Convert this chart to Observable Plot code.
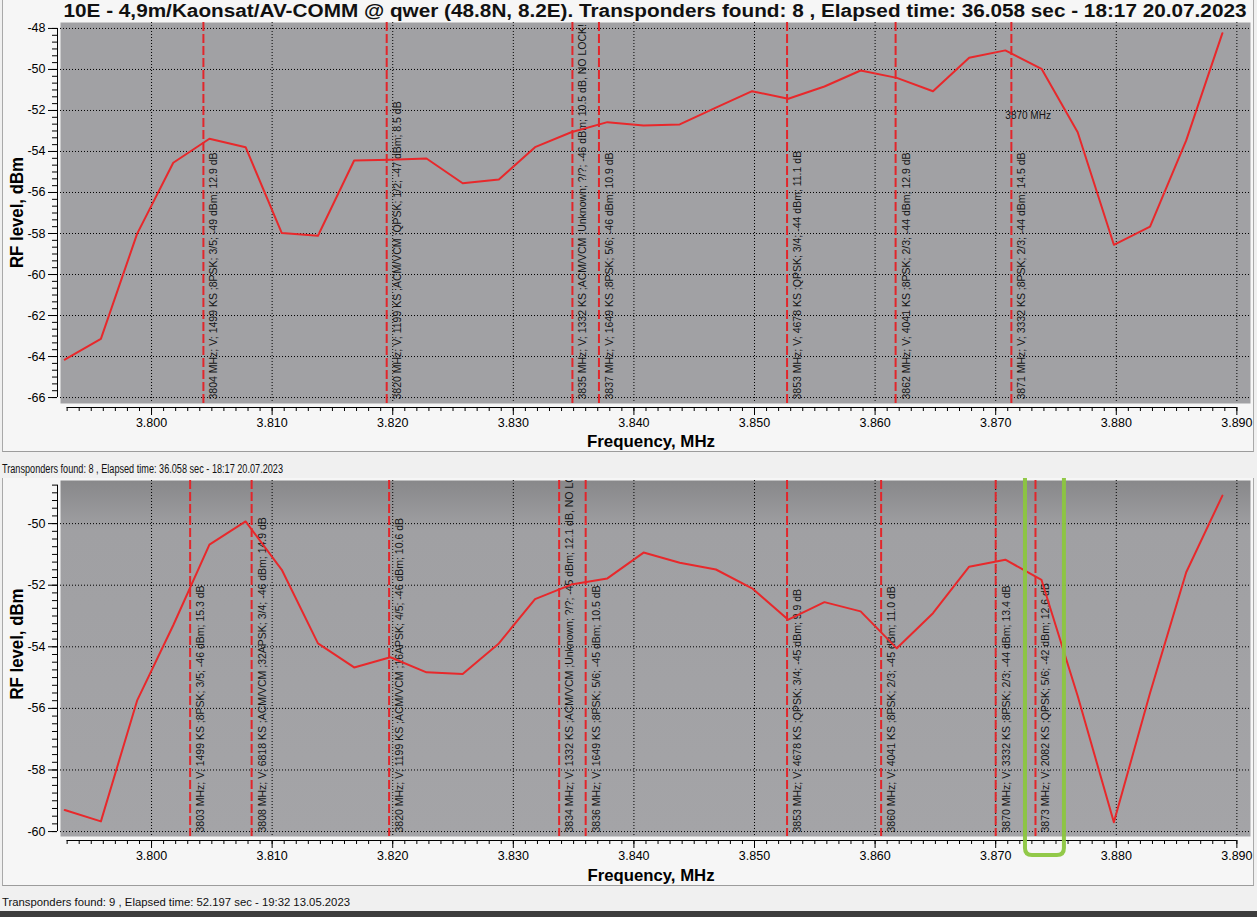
<!DOCTYPE html>
<html><head><meta charset="utf-8">
<script src="https://cdn.jsdelivr.net/npm/d3@7"></script>
<script src="https://cdn.jsdelivr.net/npm/@observablehq/plot@0.6"></script>
<style>
html,body{margin:0;padding:0;background:#f0f0f0;}
body{width:1257px;height:917px;position:relative;overflow:hidden;font-family:"Liberation Sans",Arial,sans-serif;}
.abs{position:absolute;}
.frame{position:absolute;left:2px;width:1250px;border-left:1px solid #a9a9a9;border-right:1px solid #a9a9a9;border-bottom:1px solid #9c9c9c;background:#f6f6f6;}
#overlay{position:absolute;left:0;top:0;pointer-events:none;}
</style>
</head>
<body>
<div class="frame" style="top:-1px;height:452px;"></div>
<div class="frame" style="top:478px;height:407px;"></div>
<div class="abs" style="left:0;top:911px;width:1257px;height:6px;background:#3d3d3d;"></div>
<div id="p1" class="abs" style="left:0;top:18px;"></div>
<div id="p2" class="abs" style="left:0;top:476px;"></div>
<svg id="overlay" width="1257" height="917"></svg>
<script>
// ---------- data ----------
const freqMHz = [3.7928, 3.7958, 3.7988, 3.8018, 3.8048, 3.8078, 3.8108, 3.8138, 3.8168, 3.8198, 3.8228,
  3.8258, 3.8288, 3.8318, 3.8348, 3.8378, 3.8408, 3.8438, 3.8468, 3.8498, 3.8528, 3.8558,
  3.8588, 3.8618, 3.8648, 3.8678, 3.8708, 3.8738, 3.8768, 3.8798, 3.8828, 3.8858, 3.8888];
const levelTop = [-64.15, -63.14, -58.02, -54.55, -53.38, -53.79, -57.98, -58.11, -54.44, -54.40, -54.34,
  -55.55, -55.37, -53.79, -53.06, -52.57, -52.73, -52.68, -51.86, -51.06, -51.43, -50.83,
  -50.05, -50.41, -51.06, -49.43, -49.07, -49.97, -53.06, -58.55, -57.66, -53.46, -48.23];
const levelBottom = [-59.30, -59.67, -55.75, -53.30, -50.68, -49.93, -51.50, -53.89, -54.67, -54.34, -54.83,
  -54.88, -53.89, -52.45, -51.98, -51.78, -50.94, -51.27, -51.49, -52.10, -53.12, -52.55,
  -52.85, -54.05, -52.91, -51.40, -51.17, -51.83, -55.60, -59.70, -55.50, -51.58, -49.09];

const markerFreqTop = [3.8043, 3.8195, 3.8349, 3.8371, 3.8527, 3.8617, 3.8713];
const markerLabelTop = [
  "3804 MHz; V; 1499 KS ;8PSK; 3/5; -49 dBm; 12.9 dB",
  "3820 MHz; V; 1199 KS ;ACM/VCM ;QPSK; 1/2; -47 dBm; 8.5 dB",
  "3835 MHz; V; 1332 KS ;ACM/VCM ;Unknown; ?/?; -46 dBm; 10.5 dB, NO LOCK!",
  "3837 MHz; V; 1649 KS ;8PSK; 5/6; -46 dBm; 10.9 dB",
  "3853 MHz; V; 4678 KS ;QPSK; 3/4; -44 dBm; 11.1 dB",
  "3862 MHz; V; 4041 KS ;8PSK; 2/3; -44 dBm; 12.9 dB",
  "3871 MHz; V; 3332 KS ;8PSK; 2/3; -44 dBm; 14.5 dB"];
const markerFreqBottom = [3.8032, 3.8083, 3.8197, 3.8338, 3.8360, 3.8527, 3.8605, 3.8700, 3.8733];
const markerLabelBottom = [
  "3803 MHz; V; 1499 KS ;8PSK; 3/5; -46 dBm; 15.3 dB",
  "3808 MHz; V; 6818 KS ;ACM/VCM ;32APSK; 3/4; -46 dBm; 14.9 dB",
  "3820 MHz; V; 1199 KS ;ACM/VCM ;16APSK; 4/5; -46 dBm; 10.6 dB",
  "3834 MHz; V; 1332 KS ;ACM/VCM ;Unknown; ?/?; -45 dBm; 12.1 dB, NO LOCK!",
  "3836 MHz; V; 1649 KS ;8PSK; 5/6; -45 dBm; 10.5 dB",
  "3853 MHz; V; 4678 KS ;QPSK; 3/4; -45 dBm; 9.9 dB",
  "3860 MHz; V; 4041 KS ;8PSK; 2/3; -45 dBm; 11.0 dB",
  "3870 MHz; V; 3332 KS ;8PSK; 2/3; -44 dBm; 13.4 dB",
  "3873 MHz; V; 2082 KS ;QPSK; 5/6; -42 dBm; 12.6 dB"];

const cursorFreq = [3.8708];
const cursorLevel = [-52.24];
const cursorText = ["3870 MHz"];
const highlightFreq = [3.87247, 3.87570];

const xTicks = [3.80, 3.81, 3.82, 3.83, 3.84, 3.85, 3.86, 3.87, 3.88, 3.89];
const xTickLabels = ["3.800", "3.810", "3.820", "3.830", "3.840", "3.850", "3.860", "3.870", "3.880", "3.890"];
const yTicksTop = [-66, -64, -62, -60, -58, -56, -54, -52, -50, -48];
const yTickLabelsTop = ["-66", "-64", "-62", "-60", "-58", "-56", "-54", "-52", "-50", "-48"];
const yTicksBottom = [-60, -58, -56, -54, -52, -50];
const yTickLabelsBottom = ["-60", "-58", "-56", "-54", "-52", "-50"];

const titleText = "10E - 4,9m/Kaonsat/AV-COMM @ qwer (48.8N, 8.2E). Transponders found: 8 , Elapsed time: 36.058 sec - 18:17 20.07.2023";
const statusTop = "Transponders found: 8 , Elapsed time: 36.058 sec - 18:17 20.07.2023";
const statusBottom = "Transponders found: 9 , Elapsed time: 52.197 sec - 19:32 13.05.2023";
const yLabel = "RF level, dBm";
const xLabel = "Frequency, MHz";

// ---------- scale setup ----------
const xDomain = [3.79245, 3.89113];
const xMinor = d3.range(3793, 3891).map(d => d / 1000);

function panel({levels, mFreq, mLabel, yDomain, yTicks, yLabels, yMinor, yAxisTop, bg, height, note}) {
  const rows = freqMHz.map((f, i) => ({f, level: levels[i]}));
  const markers = mFreq.map((f, i) => ({f, label: mLabel[i]}));
  const yFmt = new Map(yTicks.map((t, i) => [t, yLabels[i]]));
  const xFmt = new Map(xTicks.map((t, i) => [t, xTickLabels[i]]));
  const marks = [
    Plot.frame({fill: bg}),
    Plot.gridX(xTicks, {stroke: "#000", strokeOpacity: 1, strokeDasharray: "1,2"}),
    Plot.gridY(yTicks, {stroke: "#000", strokeOpacity: 1, strokeDasharray: "1,2"}),
    Plot.ruleX(markers, {x: "f", stroke: "#e2262b", strokeWidth: 2, strokeDasharray: "9,3"}),
    Plot.text(markers, {x: "f", text: "label", frameAnchor: "bottom", rotate: -90, textAnchor: "start",
      dx: 14, dy: -4, fontSize: 10.5, fill: "#141414", clip: true}),
    Plot.line(rows, {x: "f", y: "level", stroke: "#e8282b", strokeWidth: 2}),
    Plot.axisY(yMinor, {tickSize: 5, dx: -3, tickFormat: () => "", label: null}),
    Plot.axisY(yTicks, {tickSize: 9, dx: -3, tickPadding: 3, tickFormat: d => yFmt.get(d), fontSize: 12.5, label: null}),
    Plot.ruleX([xDomain[0]], {y1: yTicks[0], y2: yAxisTop, dx: -3, stroke: "#000"}),
    Plot.axisX(xMinor, {tickSize: 4, dy: 4, tickFormat: () => "", label: null}),
    Plot.axisX(xTicks, {tickSize: 8, dy: 4, tickPadding: 3, tickFormat: d => xFmt.get(d), fontSize: 12.5, label: null}),
    Plot.ruleY([yDomain[0]], {x1: xMinor[0], x2: xMinor[xMinor.length - 1], dy: 4, stroke: "#000"})
  ];
  if (note) marks.push(Plot.text(note, {x: "f", y: "level", text: "text", textAnchor: "start", fontSize: 10, fill: "#141414"}));
  return Plot.plot({
    width: 1257, height,
    marginTop: 4, marginBottom: 50, marginLeft: 60, marginRight: 7,
    style: {background: "transparent", fontFamily: "Liberation Sans, Arial, sans-serif", color: "#000", overflow: "visible"},
    x: {domain: xDomain},
    y: {domain: yDomain},
    marks
  });
}

const note = cursorFreq.map((f, i) => ({f, level: cursorLevel[i], text: cursorText[i]}));
const topPlot = panel({levels: levelTop, mFreq: markerFreqTop, mLabel: markerLabelTop, yDomain: [-66.29, -47.71],
  yTicks: yTicksTop, yLabels: yTickLabelsTop, yMinor: d3.range(-198, -143).map(d => d / 3), yAxisTop: -48,
  bg: "#a1a1a4", height: 435, note});
document.getElementById("p1").appendChild(topPlot);

const botPlot = panel({levels: levelBottom, mFreq: markerFreqBottom, mLabel: markerLabelBottom, yDomain: [-60.16, -48.6],
  yTicks: yTicksBottom, yLabels: yTickLabelsBottom, yMinor: d3.range(-240, -194).map(d => d / 4), yAxisTop: -48.75,
  bg: "url(#botGrad)", height: 410, note: null});
document.getElementById("p2").appendChild(botPlot);
const defs = d3.select(botPlot).insert("defs", ":first-child");
const grad = defs.append("linearGradient").attr("id", "botGrad").attr("x1", 0).attr("x2", 0).attr("y1", 0).attr("y2", 1);
grad.append("stop").attr("offset", 0).attr("stop-color", "#88888a");
grad.append("stop").attr("offset", 0.14).attr("stop-color", "#a0a0a3");
grad.append("stop").attr("offset", 1).attr("stop-color", "#a4a4a7");

// ---------- overlay texts ----------
const ov = d3.select("#overlay");
function txt(s, {x, y, size, weight = "normal", anchor = "start", len, rotate = 0, color = "#000"}) {
  const t = ov.append("text").text(s)
    .attr("transform", `translate(${x},${y}) rotate(${rotate})`)
    .attr("font-size", size).attr("font-weight", weight).attr("text-anchor", anchor)
    .attr("fill", color).attr("font-family", "Liberation Sans, Arial, sans-serif");
  if (len) t.attr("textLength", len).attr("lengthAdjust", "spacingAndGlyphs");
  return t;
}
txt(titleText, {x: 655, y: 17, size: 18, weight: "bold", anchor: "middle", len: 1183, color: "#111"});
txt(yLabel, {x: 22.7, y: 212.5, size: 18, weight: "bold", anchor: "middle", len: 111, rotate: -90});
txt(yLabel, {x: 22.7, y: 644, size: 18, weight: "bold", anchor: "middle", len: 111, rotate: -90});
txt(xLabel, {x: 651, y: 447, size: 16.5, weight: "bold", anchor: "middle", len: 128});
txt(xLabel, {x: 651, y: 881, size: 16.5, weight: "bold", anchor: "middle", len: 127});
txt(statusTop, {x: 2, y: 473, size: 12, len: 281, color: "#111"});
txt(statusBottom, {x: 2, y: 906, size: 11.5, len: 348, color: "#111"});

// ---------- green highlight (bottom panel) ----------
const xs = botPlot.scale("x");
const gx1 = xs.apply(highlightFreq[0]), gx2 = xs.apply(highlightFreq[1]);
const gTop = 478, gBot = 855, rr = 7;
ov.append("path")
  .attr("d", `M${gx1},${gTop} L${gx1},${gBot - rr} Q${gx1},${gBot} ${gx1 + rr},${gBot} L${gx2 - rr},${gBot} Q${gx2},${gBot} ${gx2},${gBot - rr} L${gx2},${gTop}`)
  .attr("fill", "none").attr("stroke", "#8cc63f").attr("stroke-width", 4).attr("stroke-opacity", 0.95);
</script>
</body></html>
